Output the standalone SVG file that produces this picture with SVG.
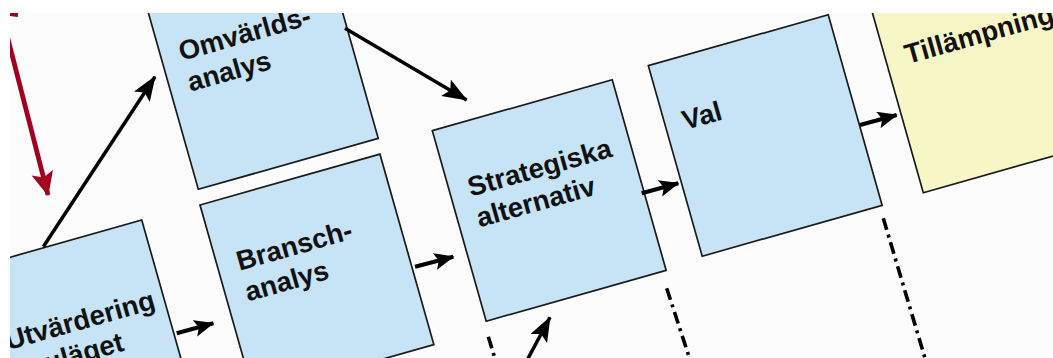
<svg xmlns="http://www.w3.org/2000/svg" width="1053" height="358" viewBox="0 0 1053 358">
<defs>
<style>
.box{fill:#c6e4f5;stroke:#1a1a1a;stroke-width:1.7}
.ybox{fill:#f6f6c6;stroke:#1a1a1a;stroke-width:1.7}
.lbl{font-family:"Liberation Sans",Arial,sans-serif;font-weight:bold;font-size:27.5px;fill:#111}
.arr{fill:none;stroke:#000;stroke-width:3.5}
.sarr{fill:none;stroke:#000;stroke-width:4.2}
.dd{fill:none;stroke:#000;stroke-width:3.6;stroke-dasharray:12 5 3 5}
.red{fill:none;stroke:#a3001f;stroke-width:4.8}
</style>
<marker id="ah" markerUnits="userSpaceOnUse" markerWidth="28" markerHeight="22" refX="24" refY="9.5" orient="auto"><path d="M0,0 L25,9.5 L0,19 L5,9.5 z" fill="#000"/></marker>
<marker id="sh" markerUnits="userSpaceOnUse" markerWidth="22" markerHeight="20" refX="19" refY="8.5" orient="auto"><path d="M0,0 L20,8.5 L0,17 L4,8.5 z" fill="#000"/></marker>
<marker id="rh" markerUnits="userSpaceOnUse" markerWidth="26" markerHeight="24" refX="23" refY="11" orient="auto"><path d="M0,0 L24,11 L0,22 L5,11 z" fill="#a3001f"/></marker>
<clipPath id="area"><rect x="10" y="13" width="1043" height="345"/></clipPath>
</defs>
<rect x="0" y="0" width="1053" height="358" fill="#ffffff"/>
<g clip-path="url(#area)">
<rect x="10" y="13" width="1043" height="345" fill="#fcfcfc"/>
<g id="omvarlds" transform="translate(144.4,-1.2) rotate(-15.8)">
<rect class="box" x="0" y="0" width="187" height="198"/>
<text class="lbl" x="19" y="70">Omvärlds-</text>
<text class="lbl" x="19" y="102">analys</text>
</g>
<g id="bransch" transform="translate(200,205) rotate(-15.8)">
<rect class="box" x="0" y="0" width="187" height="198"/>
<text class="lbl" x="20" y="74">Bransch-</text>
<text class="lbl" x="20" y="106">analys</text>
</g>
<g id="utvardering" transform="translate(-38.2,270.9) rotate(-15.8)">
<rect class="box" x="0" y="0" width="187" height="198"/>
<text class="lbl" x="23" y="89">Utvärdering</text>
<text class="lbl" x="38" y="121">nuläget</text>
</g>
<g id="strategiska" transform="translate(432.3,130.7) rotate(-15.8)">
<rect class="box" x="0" y="0" width="187" height="198"/>
<text class="lbl" x="19" y="74">Strategiska</text>
<text class="lbl" x="19" y="106">alternativ</text>
</g>
<g id="val" transform="translate(648.3,65.7) rotate(-15.8)">
<rect class="box" x="0" y="0" width="187" height="198"/>
<text class="lbl" x="18" y="72">Val</text>
</g>
<g id="tillampning" transform="translate(869.4,2.2) rotate(-15.8)">
<rect class="ybox" x="0" y="0" width="187" height="198"/>
<text class="lbl" x="20" y="70">Tillämpning</text>
</g>
<g id="connectors">
<path class="red" d="M1.3,13 L48,195" marker-end="url(#rh)"/>
<path class="red" d="M8,13.5 L18,14.5" stroke-width="2.5"/>
<path class="arr" d="M43.3,246.7 L155,76.7" marker-end="url(#ah)"/>
<path class="arr" d="M345,28.3 L466.7,100" marker-end="url(#ah)"/>
<path class="sarr" d="M176.7,333.3 L213.3,323.3" marker-end="url(#sh)"/>
<path class="sarr" d="M415,266.7 L453.3,256.7" marker-end="url(#sh)"/>
<path class="sarr" d="M641.7,193.3 L678.3,183.3" marker-end="url(#sh)"/>
<path class="sarr" d="M860,125 L896.7,115" marker-end="url(#sh)"/>
<path class="arr" d="M520.8,372 L550,317.3" marker-end="url(#ah)"/>
<path class="dd" d="M488.3,336.7 L500,375"/>
<path class="dd" d="M666.7,288.3 L695,375"/>
<path class="dd" d="M883.3,218.3 L930,375"/>
</g>
</g>
</svg>
